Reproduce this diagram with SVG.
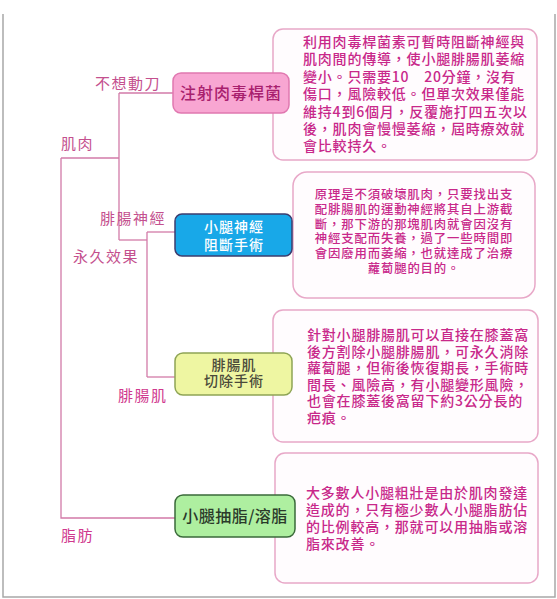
<svg xmlns="http://www.w3.org/2000/svg" width="557" height="599" viewBox="0 0 557 599">
<style>
.cjk{font-family:"Noto Sans CJK TC","Noto Sans CJK SC",sans-serif}
.desc{fill:#fffcfe;stroke:#e8a8c8;stroke-width:1.5}
.dt{font-size:14px;fill:#c8288a;font-weight:500;letter-spacing:0.8px}
.dt2{font-size:12.4px;fill:#c8288a;font-weight:500;letter-spacing:0.85px;text-anchor:middle}
.lbl{font-size:15px;fill:#c4508e;letter-spacing:1.5px}
.conn line,.conn polyline{stroke:#d27aa8;stroke-width:1.3;fill:none}
</style>
<rect width="557" height="599" fill="#ffffff"/>
<g id="frame" stroke="#a8a8a8" stroke-width="1.5" fill="none">
<polyline points="3,14 3,597 555,597 555,14"/>
</g>
<g id="desc-botox" class="cjk">
<rect class="desc" x="273" y="29" width="264" height="131" rx="10"/>
<text class="dt"><tspan x="303" y="47">利用肉毒桿菌素可暫時阻斷神經與</tspan><tspan x="303" y="64.4">肌肉間的傳導，使小腿腓腸肌萎縮</tspan><tspan x="303" y="81.8">變小。只需要10　20分鐘，沒有</tspan><tspan x="303" y="99.2">傷口，風險較低。但單次效果僅能</tspan><tspan x="303" y="116.6">維持4到6個月，反覆施打四五次以</tspan><tspan x="303" y="134">後，肌肉會慢慢萎縮，屆時療效就</tspan><tspan x="303" y="151.4">會比較持久。</tspan></text>
</g>
<g id="desc-nerve" class="cjk">
<rect class="desc" x="293" y="172" width="242" height="126" rx="14"/>
<text class="dt2"><tspan x="414" y="199">原理是不須破壞肌肉，只要找出支</tspan><tspan x="414" y="213.8">配腓腸肌的運動神經將其自上游截</tspan><tspan x="414" y="228.6">斷，那下游的那塊肌肉就會因沒有</tspan><tspan x="414" y="243.4">神經支配而失養，過了一些時間即</tspan><tspan x="414" y="258.2">會因廢用而萎縮，也就達成了治療</tspan><tspan x="414" y="273">蘿蔔腿的目的。</tspan></text>
</g>
<g id="desc-muscle" class="cjk">
<rect class="desc" x="273" y="310" width="265" height="132" rx="10"/>
<text class="dt"><tspan x="307" y="340">針對小腿腓腸肌可以直接在膝蓋窩</tspan><tspan x="307" y="356.6">後方割除小腿腓腸肌，可永久消除</tspan><tspan x="307" y="373.2">蘿蔔腿，但術後恢復期長，手術時</tspan><tspan x="307" y="389.8">間長、風險高，有小腿變形風險，</tspan><tspan x="307" y="406.4">也會在膝蓋後窩留下約3公分長的</tspan><tspan x="307" y="423">疤痕。</tspan></text>
</g>
<g id="desc-fat" class="cjk">
<rect class="desc" x="275" y="453" width="263" height="130" rx="10"/>
<text class="dt"><tspan x="306" y="498">大多數人小腿粗壯是由於肌肉發達</tspan><tspan x="306" y="515">造成的，只有極少數人小腿脂肪佔</tspan><tspan x="306" y="532">的比例較高，那就可以用抽脂或溶</tspan><tspan x="306" y="549">脂來改善。</tspan></text>
</g>
<g class="conn" id="connectors">
<line x1="119" y1="93" x2="173" y2="93"/>
<line x1="119" y1="93" x2="119" y2="240"/>
<line x1="61" y1="158" x2="119" y2="158"/>
<polyline points="119,240 147,240"/>
<line x1="147" y1="232" x2="147" y2="377"/>
<line x1="147" y1="232" x2="175" y2="232"/>
<line x1="147" y1="377" x2="175" y2="377"/>
<polyline points="61,158 61,518 175,518"/>
</g>
<g id="labels" class="cjk">
<text class="lbl" x="95" y="89">不想動刀</text>
<text class="lbl" x="61" y="149">肌肉</text>
<text class="lbl" x="100" y="224">腓腸神經</text>
<text class="lbl" x="73" y="262">永久效果</text>
<text class="lbl" x="118" y="401" style="fill:#d0388e">腓腸肌</text>
<text class="lbl" x="61" y="541" style="fill:#d0388e">脂肪</text>
</g>
<g id="node-botox">
<rect x="173" y="73" width="116" height="40" rx="8" fill="#f8a6d2" stroke="#e078b0" stroke-width="1.5"/>
<text class="cjk" x="231" y="99" text-anchor="middle" font-size="16" font-weight="500" letter-spacing="1" fill="#a8206e">注射肉毒桿菌</text>
</g>
<g id="node-nerve">
<rect x="175" y="214" width="117" height="42" rx="7" fill="#18a8e8" stroke="#3c3c6e" stroke-width="1.5"/>
<text class="cjk" font-size="14" font-weight="500" fill="#ffffff" text-anchor="middle" letter-spacing="1"><tspan x="234" y="232">小腿神經</tspan><tspan x="234" y="250">阻斷手術</tspan></text>
</g>
<g id="node-muscle">
<rect x="175" y="353" width="117" height="42" rx="8" fill="#eef6a2" stroke="#8ea455" stroke-width="1.5"/>
<text class="cjk" font-size="14" font-weight="500" fill="#4a4a3a" text-anchor="middle" letter-spacing="1"><tspan x="234" y="370">腓腸肌</tspan><tspan x="234" y="386">切除手術</tspan></text>
</g>
<g id="node-fat">
<rect x="175" y="495" width="120" height="42" rx="8" fill="#aeefa0" stroke="#3a6a3a" stroke-width="1.5"/>
<text class="cjk" x="235" y="522" text-anchor="middle" font-size="16" font-weight="500" letter-spacing="0.5" fill="#2a3a2a">小腿抽脂/溶脂</text>
</g>
</svg>
